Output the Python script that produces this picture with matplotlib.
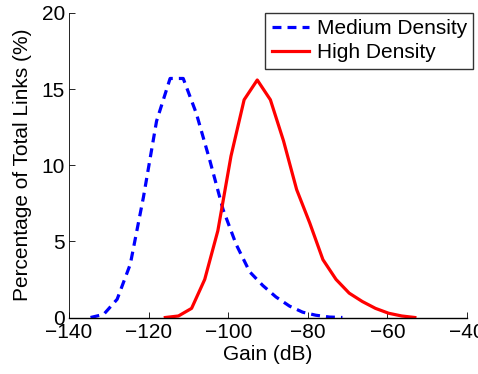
import matplotlib
matplotlib.use("Agg")
import matplotlib.pyplot as plt

plt.rcParams['font.family'] = ['Liberation Sans', 'DejaVu Sans']

medium_x = [-134.6, -131.3, -127.9, -124.6, -121.3, -118.0, -114.6, -111.3, -108.0, -104.6,
            -101.3, -98.0, -94.6, -91.3, -88.0, -84.6, -81.3, -78.0, -74.6, -71.3]
medium_y = [0.0, 0.2, 1.2, 3.5, 7.9, 12.9, 15.7, 15.7, 13.4, 10.3,
            7.1, 4.8, 3.0, 2.1, 1.35, 0.75, 0.35, 0.15, 0.03, 0.0]

high_x = [-115.8, -112.5, -109.2, -105.9, -102.6, -99.3, -96.0, -92.7, -89.4, -86.1,
          -82.8, -79.5, -76.2, -72.9, -69.6, -66.3, -63.0, -59.7, -56.4, -53.1]
high_y = [0.0, 0.1, 0.6, 2.5, 5.7, 10.6, 14.3, 15.6, 14.3, 11.6,
          8.4, 6.2, 3.8, 2.5, 1.6, 1.05, 0.6, 0.28, 0.1, 0.0]

labels = ["Medium Density", "High Density"]
xticks = [-140, -120, -100, -80, -60, -40]
yticks = [0, 5, 10, 15, 20]

fig = plt.figure(figsize=(4.78, 3.74), dpi=100)
ax = fig.add_axes([69/478, 1 - 317.5/374, (467-69)/478, (317.5-13)/374])

ax.plot(medium_x, medium_y, color='#0000ff', linestyle=(0, (2.8, 1.9)), linewidth=2.3,
        dash_capstyle='butt', label=labels[0])
ax.plot(high_x, high_y, color='#ff0000', linestyle='-', linewidth=2.3, label=labels[1])

ax.set_xlim(-140, -40)
ax.set_ylim(0, 20)
ax.set_xticks(xticks)
ax.set_yticks(yticks)
ax.set_xticklabels([str(t).replace('-', '\u2212') for t in xticks])
ax.tick_params(direction='in', length=4, width=0.6, labelsize=15)
ax.tick_params(axis='x', pad=4)
ax.tick_params(axis='y', pad=3)
ax.spines['top'].set_visible(False)
ax.spines['right'].set_visible(False)
ax.spines['left'].set_linewidth(0.6)
ax.spines['bottom'].set_linewidth(1.0)
ax.set_xlabel("Gain (dB)", fontsize=15, labelpad=2)
ax.set_ylabel("Percentage of Total Links (%)", fontsize=15, labelpad=7)

leg = ax.legend(loc='upper right', bbox_to_anchor=(473/478, 1 - 13/374), bbox_transform=fig.transFigure,
                fontsize=15, frameon=True, fancybox=False, edgecolor='black',
                handlelength=1.8, handletextpad=0.35, borderpad=0.3, labelspacing=0.25,
                borderaxespad=0)
leg.get_frame().set_linewidth(1.0)

fig.savefig("out.png", dpi=100)
